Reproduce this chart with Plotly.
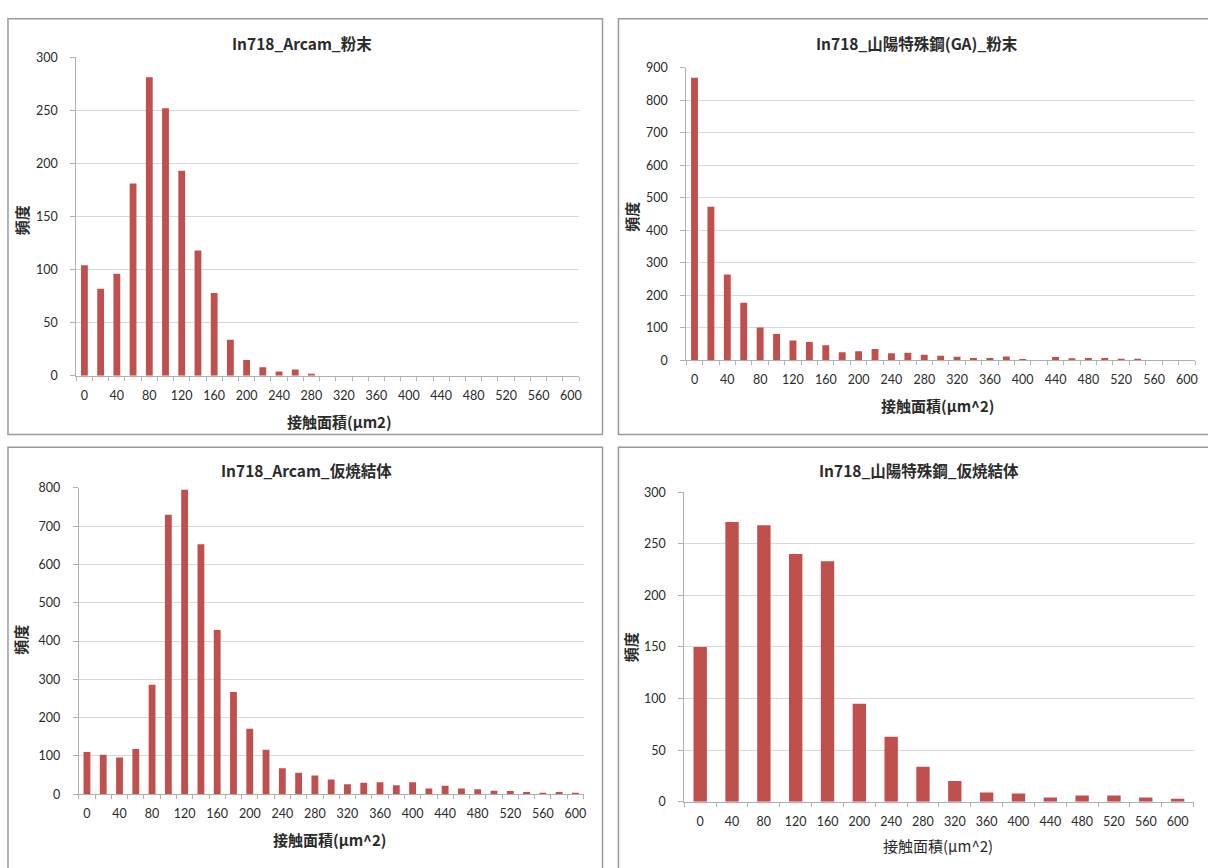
import plotly.graph_objects as go

# Contact-area bins (µm²)
bins_20 = [0, 20, 40, 60, 80, 100, 120, 140, 160, 180, 200, 220, 240, 260, 280, 300,
           320, 340, 360, 380, 400, 420, 440, 460, 480, 500, 520, 540, 560, 580, 600]
bins_40 = [0, 40, 80, 120, 160, 200, 240, 280, 320, 360, 400, 440, 480, 520, 560, 600]
tick_values = [0, 40, 80, 120, 160, 200, 240, 280, 320, 360, 400, 440, 480, 520, 560, 600]
tick_labels = [str(v) for v in tick_values]

# Frequency counts per bin
arcam_powder = [104, 82, 96, 181, 281, 252, 193, 118, 78, 34, 15, 8, 4, 6, 2, 0,
                0, 0, 0, 0, 0, 0, 0, 0, 0, 0, 0, 0, 0, 0, 0]
sanyo_powder = [870, 473, 264, 177, 101, 81, 61, 56, 46, 25, 28, 35, 22, 23, 17, 14,
                11, 7, 7, 12, 3, 0, 10, 6, 7, 7, 5, 5, 0, 0, 0]
arcam_sintered = [110, 103, 96, 118, 286, 730, 795, 653, 429, 267, 171, 116, 68, 56, 49, 38,
                  26, 30, 31, 23, 31, 15, 22, 15, 13, 9, 8, 6, 3, 6, 3]
sanyo_sintered = [150, 271, 268, 240, 233, 95, 63, 34, 20, 9, 8, 4, 6, 6, 4, 3]

titles = ["In718_Arcam_粉末", "In718_山陽特殊鋼(GA)_粉末",
          "In718_Arcam_仮焼結体", "In718_山陽特殊鋼_仮焼結体"]
x_titles = ["接触面積(μm2)", "接触面積(μm^2)", "接触面積(μm^2)", "接触面積(μm^2)"]
y_title = "頻度"

W, H = 1208, 868
BAR = "#C0504D"
GRID = "#D9D9D9"
AXIS = "#B0B0B0"
TXT = "#2B2B2B"
FONT = "Lato, 'Noto Sans CJK JP', sans-serif"
CJK = "'Noto Sans CJK JP', sans-serif"


def px_x(v):
    return v / W


def px_y(v):
    return 1 - v / H


# panel layout in pixels: plot box (left, right, top, bottom), frame, title / label spots
panels = [
    dict(x=bins_20, y=arcam_powder, ymax=300, dy=50, step=20,
         plot=(76.5, 580.5, 50, 374.3), frame=(8, 604, 11, 434),
         title=(303, 36), xt=(340, 421), yt=(21, 216), xbold=True),
    dict(x=bins_20, y=sanyo_powder, ymax=900, dy=100, step=20,
         plot=(688, 1198, 61, 358.5), frame=(620, 1215, 11, 434),
         title=(919, 36), xt=(940, 404), yt=(633, 212), xbold=True),
    dict(x=bins_20, y=arcam_sintered, ymax=800, dy=100, step=20,
         plot=(79, 585, 488.3, 800), frame=(8, 604, 447, 880),
         title=(307, 470), xt=(330, 846), yt=(21, 643), xbold=True),
    dict(x=bins_40, y=sanyo_sintered, ymax=300, dy=50, step=40,
         plot=(686, 1196.5, 492.7, 807.7), frame=(620, 1215, 447, 880),
         title=(921, 470), xt=(940, 852), yt=(632, 650), xbold=False),
]

fig = go.Figure()
shapes = []
annotations = []

for i, p in enumerate(panels):
    n = "" if i == 0 else str(i + 1)
    l, r, t, b = p["plot"]
    half = p["step"] / 2
    fig.add_trace(go.Bar(
        x=p["x"], y=p["y"], marker=dict(color=BAR, line=dict(width=0)),
        xaxis="x" + n, yaxis="y" + n, showlegend=False,
        width=p["step"] * 0.42,
    ))
    fig.layout["xaxis" + n] = dict(
        domain=[px_x(l), px_x(r)], anchor="y" + n,
        range=[-half, 600 + half], tickmode="array",
        tickvals=tick_values, ticktext=tick_labels, ticks="",
        minor=dict(tick0=-half, dtick=p["step"], ticks="outside", ticklen=4,
                   tickcolor=AXIS, tickwidth=1),
        showline=True, linecolor=AXIS, linewidth=1, showgrid=False,
        zeroline=False, ticklabelstandoff=8,
        tickfont=dict(family=FONT, size=12.5, color=TXT), fixedrange=True,
    )
    fig.layout["yaxis" + n] = dict(
        domain=[px_y(b), px_y(t)], anchor="x" + n,
        range=[0, p["ymax"]], dtick=p["dy"], tick0=0,
        ticks="outside", ticklen=5, tickcolor=AXIS,
        showline=True, linecolor=AXIS, linewidth=1,
        showgrid=True, gridcolor=GRID, gridwidth=1, zeroline=False,
        ticklabelstandoff=10,
        tickfont=dict(family=FONT, size=12.5, color=TXT), fixedrange=True,
    )
    fl, fr, ft, fb = p["frame"]
    shapes.append(dict(type="rect", xref="paper", yref="paper",
                       x0=px_x(fl), x1=px_x(fr), y0=px_y(fb), y1=px_y(ft),
                       line=dict(color="#9A9A9A", width=1.5), layer="below"))
    tx, ty = p["title"]
    annotations.append(dict(text="<b>" + titles[i] + "</b>", x=px_x(tx), y=px_y(ty),
                            xref="paper", yref="paper", showarrow=False,
                            xanchor="center", yanchor="middle",
                            font=dict(family=CJK, size=15.5, color=TXT)))
    xx, xy = p["xt"]
    xtext = "<b>" + x_titles[i] + "</b>" if p["xbold"] else x_titles[i]
    annotations.append(dict(text=xtext, x=px_x(xx), y=px_y(xy),
                            xref="paper", yref="paper", showarrow=False,
                            xanchor="center", yanchor="middle",
                            font=dict(family=CJK, size=15, color=TXT)))
    yx, yy = p["yt"]
    annotations.append(dict(text="<b>" + y_title + "</b>", x=px_x(yx), y=px_y(yy),
                            xref="paper", yref="paper", showarrow=False,
                            xanchor="center", yanchor="middle", textangle=-90,
                            font=dict(family=CJK, size=15, color=TXT)))

fig.update_layout(
    width=W, height=H, margin=dict(l=0, r=0, t=0, b=0),
    paper_bgcolor="white", plot_bgcolor="white",
    shapes=shapes, annotations=annotations, bargap=0.5,
)

fig.write_html("out.html", config=dict(displayModeBar=False))
